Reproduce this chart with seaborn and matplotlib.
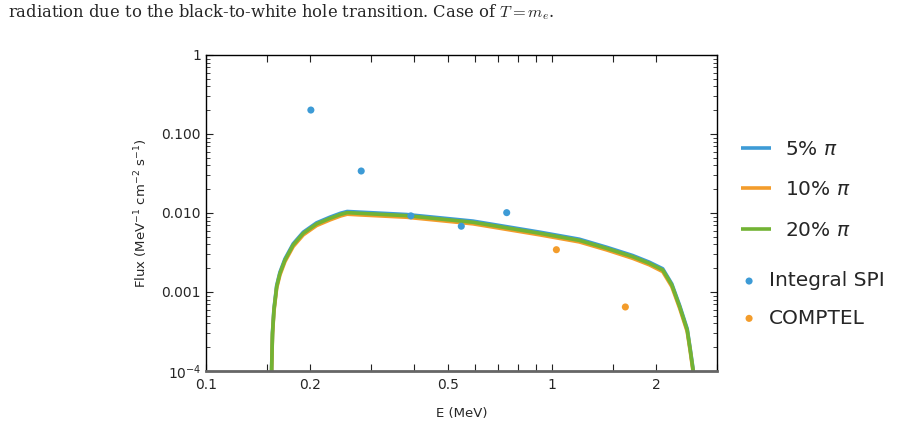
import numpy as np
import pandas as pd
import seaborn as sns
import matplotlib.pyplot as plt
import matplotlib.ticker as mticker

# model spectra (E in MeV, flux in MeV^-1 cm^-2 s^-1)
energy = [0.1545, 0.1548, 0.1557, 0.1572, 0.1601, 0.1636, 0.1692, 0.1787, 0.1911, 0.2088,
          0.2284, 0.2450, 0.2560, 0.279, 0.380, 0.591, 0.923, 1.20, 1.438, 1.71, 1.91,
          2.09, 2.22, 2.34, 2.46, 2.51, 2.56, 2.59]
flux_5 = [1.04e-5, 1.12e-4, 3.1e-4, 6.1e-4, 1.21e-3, 1.78e-3, 2.63e-3, 4.08e-3, 5.72e-3,
          7.51e-3, 8.87e-3, 9.94e-3, 1.045e-2, 1.025e-2, 9.57e-3, 7.9e-3, 5.72e-3, 4.66e-3,
          3.69e-3, 2.9e-3, 2.39e-3, 1.97e-3, 1.27e-3, 6.73e-4, 3.42e-4, 1.91e-4, 1.04e-4,
          1.04e-5]
flux_10 = [0.96e-5, 1.03e-4, 2.87e-4, 5.63e-4, 1.12e-3, 1.64e-3, 2.43e-3, 3.76e-3, 5.28e-3,
           6.93e-3, 8.18e-3, 9.17e-3, 9.65e-3, 9.45e-3, 8.83e-3, 7.29e-3, 5.28e-3, 4.3e-3,
           3.41e-3, 2.67e-3, 2.21e-3, 1.81e-3, 1.17e-3, 6.2e-4, 3.15e-4, 1.77e-4, 9.55e-5,
           0.96e-5]
flux_20 = [1e-5, 1.08e-4, 3.0e-4, 5.9e-4, 1.17e-3, 1.72e-3, 2.54e-3, 3.94e-3, 5.53e-3,
           7.26e-3, 8.57e-3, 9.6e-3, 1.01e-2, 9.9e-3, 9.25e-3, 7.63e-3, 5.53e-3, 4.5e-3,
           3.57e-3, 2.8e-3, 2.31e-3, 1.9e-3, 1.23e-3, 6.5e-4, 3.3e-4, 1.85e-4, 1.0e-4, 1e-5]

# observations
spi_e = [0.201, 0.281, 0.391, 0.547, 0.740]
spi_flux = [0.201, 0.034, 0.0092, 0.0068, 0.0101]
comptel_e = [1.03, 1.63]
comptel_flux = [0.00343, 0.000646]

x_ticks = [0.1, 0.15, 0.2, 0.3, 0.4, 0.5, 0.6, 0.7, 0.8, 0.9, 1, 1.5, 2, 3]
x_labels = {0.1: "0.1", 0.2: "0.2", 0.5: "0.5", 1: "1", 2: "2"}
y_labels = {1: "1", 0.1: "0.100", 0.01: "0.010", 0.001: "0.001", 1e-4: "$10^{-4}$"}

blue, orange, green = "#3d9bd6", "#f39c2b", "#72b334"

sns.set_style("ticks")
plt.rcParams["mathtext.fontset"] = "dejavusans"

fig = plt.figure(figsize=(9.01, 4.25), dpi=100)
ax = fig.add_axes([0.2286, 0.1271, 0.5672, 0.7435])

labels = ["5% $\\pi$", "10% $\\pi$", "20% $\\pi$"]
curves = pd.DataFrame({"E": energy, labels[0]: flux_5, labels[1]: flux_10,
                       labels[2]: flux_20})
for col, c in zip(labels, [blue, orange, green]):
    sns.lineplot(data=curves, x="E", y=col, ax=ax, color=c, lw=2.6, label=col,
                 solid_joinstyle="round", solid_capstyle="butt")

sns.scatterplot(x=spi_e, y=spi_flux, ax=ax, color=blue, s=26, edgecolor="none",
                label="Integral SPI", zorder=5)
sns.scatterplot(x=comptel_e, y=comptel_flux, ax=ax, color=orange, s=26, edgecolor="none",
                label="COMPTEL", zorder=5)

ax.set_xscale("log")
ax.set_yscale("log")
ax.set_xlim(0.1, 3.0)
ax.set_ylim(1e-4, 1)

ax.xaxis.set_major_locator(mticker.FixedLocator(x_ticks))
ax.xaxis.set_minor_locator(mticker.NullLocator())
ax.xaxis.set_major_formatter(mticker.FuncFormatter(lambda v, p: x_labels.get(round(v, 2), "")))
ax.yaxis.set_major_locator(mticker.FixedLocator(list(y_labels.keys())))
ax.yaxis.set_major_formatter(mticker.FuncFormatter(
    lambda v, p: next((s for k, s in y_labels.items() if abs(v / k - 1) < 1e-6), "")))
ax.yaxis.set_minor_locator(mticker.LogLocator(base=10, subs=np.arange(2, 10)))
ax.yaxis.set_minor_formatter(mticker.NullFormatter())

ax.tick_params(which="both", direction="in", top=True, right=True, labelsize=10,
               color="#222222")
ax.tick_params(which="major", length=5)
ax.tick_params(which="minor", length=3)
ax.tick_params(axis="x", pad=5)
for s in ax.spines.values():
    s.set_linewidth(1.0)
    s.set_color("black")
ax.spines["bottom"].set_color("#666666")
ax.spines["bottom"].set_linewidth(2)

ax.set_xlabel("E (MeV)", fontsize=9.5, labelpad=11)
ax.set_ylabel("Flux (MeV$^{-1}$ cm$^{-2}$ s$^{-1}$)", fontsize=9.5, labelpad=8)

handles, names = ax.get_legend_handles_labels()
leg1 = ax.legend(handles[:3], names[:3], loc="center left", bbox_to_anchor=(0.8135, 0.553),
                 bbox_transform=fig.transFigure, borderaxespad=0, frameon=False,
                 fontsize=14.5, handlelength=1.5, handletextpad=0.7, labelspacing=1.07)
ax.add_artist(leg1)
ax.legend(handles[3:], names[3:], loc="center left", bbox_to_anchor=(0.8135, 0.2953),
          bbox_transform=fig.transFigure, borderaxespad=0, frameon=False,
          fontsize=14.5, handlelength=0.8, handletextpad=0.6, labelspacing=0.91)

fig.text(0.009, 0.972, "radiation due to the black-to-white hole transition. Case of $T = m_e$.",
         family="DejaVu Serif", math_fontfamily="cm", fontsize=11.8, va="center")

fig.savefig("out.png", dpi=100)
